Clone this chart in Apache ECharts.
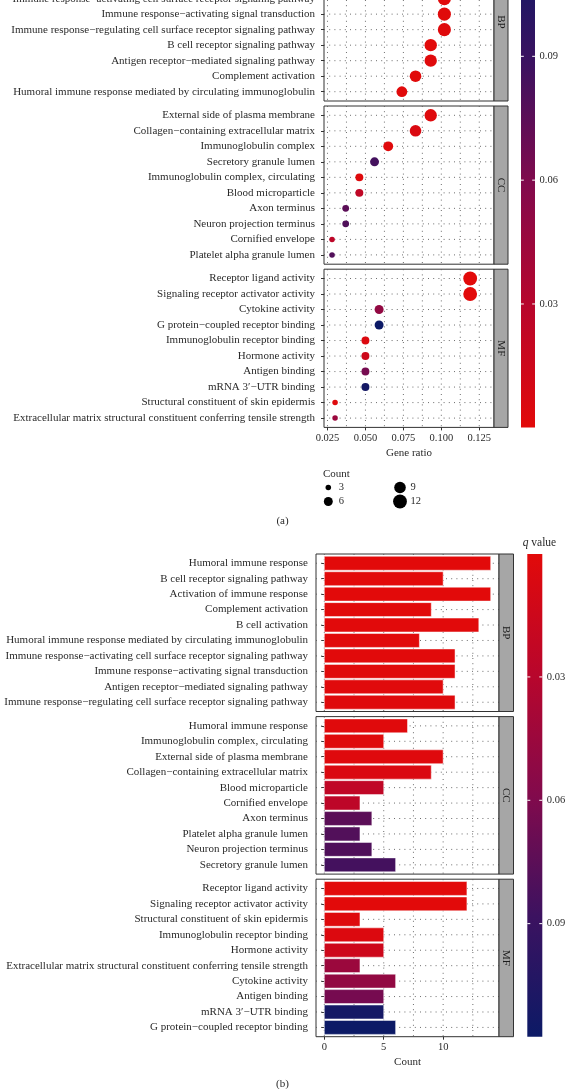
<!DOCTYPE html>
<html><head><meta charset="utf-8">
<script src="https://cdn.jsdelivr.net/npm/echarts@6/dist/echarts.min.js"></script>
<style>html,body{margin:0;padding:0;background:#fff;}#c{width:565px;height:1089px;}</style>
</head><body><div id="c"></div>
<script>
// ---------------- DATA ----------------
// (a) dot plot, rows listed top to bottom within each panel
const aBpTerms = ['Humoral immune response','Activation of immune response','B cell activation',
  'Immune response\u2212activating cell surface receptor signaling pathway',
  'Immune response\u2212activating signal transduction',
  'Immune response\u2212regulating cell surface receptor signaling pathway',
  'B cell receptor signaling pathway','Antigen receptor\u2212mediated signaling pathway',
  'Complement activation','Humoral immune response mediated by circulating immunoglobulin'];
const aBpRatio = [0.130, 0.130, 0.120, 0.102, 0.102, 0.102, 0.093, 0.093, 0.083, 0.074];
const aBpCount = [14, 14, 13, 11, 11, 11, 10, 10, 9, 8];
const aBpQ     = [0.0001, 0.0004, 0.0006, 0.001, 0.0012, 0.002, 0.0003, 0.0015, 0.0005, 0.0008];

const aCcTerms = ['External side of plasma membrane','Collagen\u2212containing extracellular matrix',
  'Immunoglobulin complex','Secretory granule lumen','Immunoglobulin complex, circulating',
  'Blood microparticle','Axon terminus','Neuron projection terminus','Cornified envelope',
  'Platelet alpha granule lumen'];
const aCcRatio = [0.093, 0.083, 0.065, 0.056, 0.046, 0.046, 0.037, 0.037, 0.028, 0.028];
const aCcCount = [10, 9, 7, 6, 5, 5, 4, 4, 3, 3];
const aCcQ     = [0.0025, 0.006, 0.0015, 0.085, 0.002, 0.024, 0.075, 0.08, 0.026, 0.079];

const aMfTerms = ['Receptor ligand activity','Signaling receptor activator activity','Cytokine activity',
  'G protein\u2212coupled receptor binding','Immunoglobulin receptor binding','Hormone activity',
  'Antigen binding','mRNA 3\u2032\u2212UTR binding','Structural constituent of skin epidermis',
  'Extracellular matrix structural constituent conferring tensile strength'];
const aMfRatio = [0.119, 0.119, 0.059, 0.059, 0.050, 0.050, 0.050, 0.050, 0.030, 0.030];
const aMfCount = [12, 12, 6, 6, 5, 5, 5, 5, 3, 3];
const aMfQ     = [0.0003, 0.0003, 0.05, 0.1175, 0.004, 0.015, 0.064, 0.112, 0.003, 0.045];

// (b) bar chart, rows listed top to bottom within each panel
const bBpTerms = ['Humoral immune response','B cell receptor signaling pathway','Activation of immune response',
  'Complement activation','B cell activation','Humoral immune response mediated by circulating immunoglobulin',
  'Immune response\u2212activating cell surface receptor signaling pathway',
  'Immune response\u2212activating signal transduction','Antigen receptor\u2212mediated signaling pathway',
  'Immune response\u2212regulating cell surface receptor signaling pathway'];
const bBpCount = [14, 10, 14, 9, 13, 8, 11, 11, 10, 11];
const bBpQ     = [0.0001, 0.0003, 0.0004, 0.0005, 0.0006, 0.0008, 0.001, 0.0012, 0.0015, 0.002];

const bCcTerms = ['Humoral immune response','Immunoglobulin complex, circulating','External side of plasma membrane',
  'Collagen\u2212containing extracellular matrix','Blood microparticle','Cornified envelope','Axon terminus',
  'Platelet alpha granule lumen','Neuron projection terminus','Secretory granule lumen'];
const bCcCount = [7, 5, 10, 9, 5, 3, 4, 3, 4, 6];
const bCcQ     = [0.0015, 0.002, 0.0025, 0.006, 0.024, 0.026, 0.075, 0.079, 0.08, 0.085];

const bMfTerms = ['Receptor ligand activity','Signaling receptor activator activity',
  'Structural constituent of skin epidermis','Immunoglobulin receptor binding','Hormone activity',
  'Extracellular matrix structural constituent conferring tensile strength','Cytokine activity',
  'Antigen binding','mRNA 3\u2032\u2212UTR binding','G protein\u2212coupled receptor binding'];
const bMfCount = [12, 12, 3, 5, 5, 3, 6, 5, 5, 6];
const bMfQ     = [0.0003, 0.0003, 0.003, 0.004, 0.015, 0.045, 0.05, 0.064, 0.112, 0.1175];

const facetNames   = ['BP', 'CC', 'MF'];
const ratioTicks   = [0.025, 0.05, 0.075, 0.1, 0.125];
const ratioMinor   = [0.0375, 0.0625, 0.0875, 0.1125];
const countTicks   = [0, 5, 10];
const countMinor   = [2.5, 7.5, 12.5];
const qTicks       = [0.03, 0.06, 0.09];
const sizeLegend   = [3, 6, 9, 12];

// ---------------- STYLE / LAYOUT ----------------
const FONT = '"Liberation Serif","DejaVu Serif",serif';
const TXT = '#2a2a2a';
const LINE = '#333333';
const GRIDLINE = '#5c5c5c';
const STRIP = '#a6a6a6';
const qColors = ['#e20a0a', '#b8062c', '#820a4c', '#3c1260', '#0c1a66'];
const ROW_MIN = 0.4, ROW_MAX = 10.6;

const A = { left: 324, width: 170, tops: [-57.2, 106, 269.2], height: 158.2, strip: 14,
            xMin: 0.0227, xMax: 0.1347, cbLeft: 521, cbWidth: 14, labelMargin: 9 };
const B = { left: 316, width: 183, tops: [554, 716.6, 879.2], height: 157.5, strip: 14.5,
            xMin: -0.7, xMax: 14.7, cbLeft: 527.3, cbWidth: 15, labelMargin: 8 };

const aPanels = [
  { terms: aBpTerms, ratio: aBpRatio, count: aBpCount, q: aBpQ },
  { terms: aCcTerms, ratio: aCcRatio, count: aCcCount, q: aCcQ },
  { terms: aMfTerms, ratio: aMfRatio, count: aMfCount, q: aMfQ }];
const bPanels = [
  { terms: bBpTerms, count: bBpCount, q: bBpQ },
  { terms: bCcTerms, count: bCcCount, q: bCcQ },
  { terms: bMfTerms, count: bMfCount, q: bMfQ }];

const allQ = aBpQ.concat(aCcQ, aMfQ, bBpQ, bCcQ, bMfQ);
const qMin = Math.min.apply(null, allQ), qMax = Math.max.apply(null, allQ);
const sizeOf = c => 4.8 * Math.sqrt(c) - 2.8;

const grid = [], xAxis = [], yAxis = [], series = [], graphic = [];
const scatterIdx = [], barIdx = [];

function gridLines(gi, xMajor, xMinor, xMin, xMax, n) {
  const data = xMajor.concat(xMinor).map(v => [v, 0]);
  for (let r = 1; r <= n; r++) data.push([r, 1]);
  return { type: 'custom', xAxisIndex: gi, yAxisIndex: gi, z: 1, silent: true, data,
    renderItem: (p, api) => {
      const v = api.value(0), o = api.value(1);
      const p1 = o === 0 ? api.coord([v, ROW_MIN]) : api.coord([xMin, v]);
      const p2 = o === 0 ? api.coord([v, ROW_MAX]) : api.coord([xMax, v]);
      return { type: 'line', shape: { x1: p1[0], y1: p1[1], x2: p2[0], y2: p2[1] },
        style: { stroke: GRIDLINE, lineWidth: 0.9, lineDash: [1, 4.2] } };
    } };
}

function addPanels(L, panels, isBar) {
  panels.forEach((p, i) => {
    const gi = grid.length;
    const last = i === panels.length - 1;
    const rows = p.terms.map((t, k) => k + 1);
    grid.push({ left: L.left, top: L.tops[i], width: L.width, height: L.height, show: true,
      borderColor: LINE, borderWidth: 1, backgroundColor: 'transparent', outerBoundsMode: 'none' });
    const xt = isBar ? countTicks : ratioTicks;
    xAxis.push({ type: 'value', gridIndex: gi, min: L.xMin, max: L.xMax,
      axisLine: { show: false }, splitLine: { show: false },
      axisTick: { show: last, customValues: xt, length: 3, lineStyle: { color: LINE } },
      axisLabel: { show: last, customValues: xt, margin: 5, fontFamily: FONT, fontSize: 10.5, color: TXT,
        formatter: v => isBar ? String(v) : v.toFixed(3) },
      name: last ? (isBar ? 'Count' : 'Gene ratio') : '', nameLocation: 'middle', nameGap: 20,
      nameTextStyle: { fontFamily: FONT, fontSize: 11, color: TXT } });
    yAxis.push({ type: 'value', gridIndex: gi, min: ROW_MIN, max: ROW_MAX, inverse: true,
      axisLine: { show: false }, splitLine: { show: false },
      axisTick: { customValues: rows, length: 3, lineStyle: { color: LINE } },
      axisLabel: { customValues: rows, margin: L.labelMargin, fontFamily: FONT, fontSize: 11, color: TXT,
        formatter: v => p.terms[Math.round(v) - 1] } });
    series.push(gridLines(gi, isBar ? countTicks : ratioTicks, isBar ? countMinor : ratioMinor, L.xMin, L.xMax, p.terms.length));
    if (!isBar) {
      scatterIdx.push(series.length);
      series.push({ type: 'scatter', xAxisIndex: gi, yAxisIndex: gi, z: 3, clip: false,
        itemStyle: { opacity: 1 },
        data: p.terms.map((t, k) => [p.ratio[k], k + 1, p.count[k], p.q[k]]),
        symbolSize: v => sizeOf(v[2]) });
    } else {
      barIdx.push(series.length);
      series.push({ type: 'custom', xAxisIndex: gi, yAxisIndex: gi, z: 3,
        data: p.terms.map((t, k) => [p.count[k], k + 1, p.q[k]]),
        renderItem: (prm, api) => {
          const v = api.value(0), r = api.value(1);
          const h = Math.abs(api.size([0, 0.9])[1]);
          const p0 = api.coord([0, r]), p1 = api.coord([v, r]);
          return { type: 'rect', shape: { x: p0[0], y: p0[1] - h / 2, width: p1[0] - p0[0], height: h },
            style: { fill: api.visual('color'), stroke: 'rgba(255,255,255,0.6)', lineWidth: 0.8 } };
        } });
    }
    // facet strip
    const sx = L.left + L.width, sy = L.tops[i];
    graphic.push({ type: 'rect', shape: { x: sx, y: sy, width: L.strip, height: L.height },
      style: { fill: STRIP, stroke: LINE, lineWidth: 1 }, z: 10 });
    graphic.push({ type: 'text', x: sx + L.strip / 2, y: sy + L.height / 2, rotation: -Math.PI / 2, z: 11,
      style: { text: facetNames[i], font: '11px ' + FONT, fill: '#1a1a1a', align: 'center', verticalAlign: 'middle' } });
  });
}

addPanels(A, aPanels, false);
addPanels(B, bPanels, true);

// colour bars (q value)
function colorBar(L, inverse) {
  const gi = grid.length;
  const top = L.tops[0], height = L.tops[2] + L.height - L.tops[0];
  grid.push({ left: L.cbLeft, top, width: L.cbWidth, height, show: false, outerBoundsMode: 'none' });
  xAxis.push({ type: 'value', gridIndex: gi, min: 0, max: 1, show: false });
  yAxis.push({ type: 'value', gridIndex: gi, min: qMin, max: qMax, inverse, position: 'right',
    axisLine: { show: false }, splitLine: { show: false }, axisTick: { show: false },
    axisLabel: { customValues: qTicks, margin: 4.5, fontFamily: FONT, fontSize: 10.5, color: TXT,
      formatter: v => v.toFixed(2) } });
  series.push({ type: 'custom', xAxisIndex: gi, yAxisIndex: gi, silent: true, z: 2, data: [[0, qMin]],
    renderItem: (prm, api) => {
      const pl = api.coord([0, qMin]), ph = api.coord([1, qMax]);
      const x = Math.min(pl[0], ph[0]), y = Math.min(pl[1], ph[1]);
      const w = Math.abs(ph[0] - pl[0]), h = Math.abs(ph[1] - pl[1]);
      const lowTop = pl[1] < ph[1];
      const grad = new echarts.graphic.LinearGradient(0, lowTop ? 0 : 1, 0, lowTop ? 1 : 0,
        qColors.map((c, k) => ({ offset: k / (qColors.length - 1), color: c })));
      const ch = [{ type: 'rect', shape: { x, y, width: w, height: h }, style: { fill: grad } }];
      qTicks.forEach(t => {
        const py = api.coord([0, t])[1], tl = w * 0.2;
        ch.push({ type: 'line', shape: { x1: x, y1: py, x2: x + tl, y2: py }, style: { stroke: '#fff', lineWidth: 1 } });
        ch.push({ type: 'line', shape: { x1: x + w - tl, y1: py, x2: x + w, y2: py }, style: { stroke: '#fff', lineWidth: 1 } });
      });
      return { type: 'group', children: ch };
    } });
}
colorBar(A, false);
colorBar(B, true);

// q value title for (b)
graphic.push({ type: 'text', x: 522.7, y: 543.3, style: { text: '{i|q} value', font: '11.5px ' + FONT, fill: TXT,
  verticalAlign: 'middle', rich: { i: { fontStyle: 'italic', fontFamily: FONT, fontSize: 11.5 } } } });

// Count size legend for (a)
graphic.push({ type: 'text', x: 323, y: 474, style: { text: 'Count', font: '11px ' + FONT, fill: TXT, verticalAlign: 'middle' } });
const legPos = [[328.3, 487.5], [328.3, 501.5], [400, 487.5], [400, 501.5]];
sizeLegend.forEach((c, k) => {
  graphic.push({ type: 'circle', shape: { cx: legPos[k][0], cy: legPos[k][1], r: sizeOf(c) / 2 }, style: { fill: '#000' } });
  graphic.push({ type: 'text', x: legPos[k][0] + 10.5, y: legPos[k][1], style: { text: String(c), font: '10.5px ' + FONT, fill: TXT, verticalAlign: 'middle' } });
});

// sub-figure captions
graphic.push({ type: 'text', x: 282.5, y: 521, style: { text: '(a)', font: '11px ' + FONT, fill: TXT, align: 'center', verticalAlign: 'middle' } });
graphic.push({ type: 'text', x: 282.5, y: 1084, style: { text: '(b)', font: '11px ' + FONT, fill: TXT, align: 'center', verticalAlign: 'middle' } });

const chart = echarts.init(document.getElementById('c'), null, { renderer: 'canvas' });
chart.setOption({
  animation: false,
  backgroundColor: '#ffffff',
  textStyle: { fontFamily: FONT },
  grid, xAxis, yAxis, series, graphic,
  visualMap: [
    { type: 'continuous', show: false, min: qMin, max: qMax, dimension: 3, seriesIndex: scatterIdx, inRange: { color: qColors } },
    { type: 'continuous', show: false, min: qMin, max: qMax, dimension: 2, seriesIndex: barIdx, inRange: { color: qColors } }
  ]
});
</script></body></html>
